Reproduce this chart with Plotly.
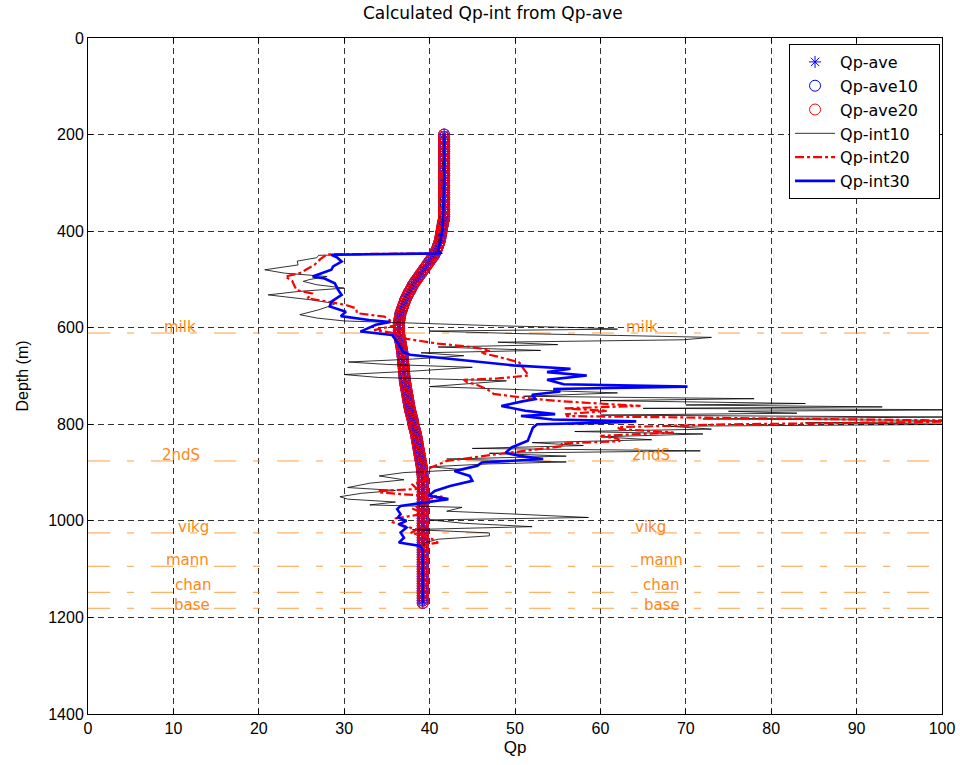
import plotly.graph_objects as go

# ---------------- data ----------------
depth_ave = list(range(200, 1175, 5))  # sample depths of the averaged Qp curves (m)

qp_ave = [
    41.7, 41.7, 41.7, 41.7, 41.7, 41.7, 41.7, 41.7, 41.7, 41.7, 41.7, 41.7,
    41.7, 41.7, 41.7, 41.7, 41.7, 41.7, 41.7, 41.7, 41.7, 41.7, 41.7, 41.7,
    41.7, 41.7, 41.7, 41.7, 41.7, 41.7, 41.7, 41.7, 41.7, 41.7, 41.7, 41.7,
    41.6, 41.55, 41.5, 41.45, 41.4, 41.35, 41.3, 41.25, 41.2, 41.1, 41.0, 40.9,
    40.8, 40.65, 40.5, 40.3, 40.1, 39.9, 39.7, 39.5, 39.3, 39.1, 38.9, 38.7,
    38.5, 38.3, 38.1, 37.95, 37.8, 37.65, 37.5, 37.35, 37.2, 37.1, 37.0, 36.9,
    36.8, 36.7, 36.6, 36.55, 36.5, 36.45, 36.4, 36.4, 36.4, 36.4, 36.4, 36.45,
    36.5, 36.55, 36.6, 36.65, 36.7, 36.75, 36.8, 36.82, 36.85, 36.88, 36.9, 36.92,
    36.95, 36.98, 37.0, 37.02, 37.05, 37.08, 37.1, 37.15, 37.2, 37.25, 37.3, 37.35,
    37.4, 37.45, 37.5, 37.55, 37.6, 37.65, 37.7, 37.78, 37.85, 37.92, 38.0, 38.05,
    38.1, 38.18, 38.25, 38.32, 38.4, 38.45, 38.5, 38.55, 38.6, 38.65, 38.7, 38.75,
    38.8, 38.85, 38.9, 38.95, 39.0, 39.05, 39.1, 39.12, 39.15, 39.18,
    39.2, 39.2, 39.2, 39.2, 39.2, 39.2, 39.2, 39.2, 39.2, 39.2, 39.2, 39.2,
    39.2, 39.2, 39.2, 39.2, 39.2, 39.2, 39.2, 39.2, 39.2, 39.2, 39.2, 39.2,
    39.2, 39.2, 39.2, 39.2, 39.2, 39.2, 39.2, 39.2, 39.2, 39.2, 39.2, 39.2,
    39.2, 39.2, 39.2, 39.2, 39.2, 39.2, 39.2, 39.2, 39.2, 39.2, 39.2, 39.2,
    39.2, 39.2, 39.2, 39.2, 39.2,
]
# the 10- and 20-sample averages coincide with Qp-ave at this scale
qp_ave10 = list(qp_ave)
qp_ave20 = list(qp_ave)

depth_int10 = [200, 440, 446, 450, 455, 462, 470, 480, 487, 494, 500, 504, 511, 518, 525, 532,
               542, 550, 557, 563, 573, 580, 586, 592, 596, 600, 603, 607, 612, 616, 620, 625,
               630, 635, 640, 647, 652, 658, 665, 671, 676, 682, 690, 697, 703, 710, 716, 722,
               729, 735, 742, 747, 751, 757, 760, 764, 767, 770, 773, 777, 781, 785, 789, 793,
               797, 800, 804, 810, 815, 820, 826, 832, 838, 844, 850, 855, 860, 866, 872, 878,
               882, 888, 894, 900, 907, 915, 922, 931, 937, 943, 950, 955, 961, 967, 972, 980,
               986, 993, 998, 1005, 1012, 1018, 1025, 1031, 1038, 1045, 1050, 1170]
qp_int10 = [41.7, 41.0, 41.5, 27.0, 26.8, 24.5, 24.6, 20.7, 23.0, 28.0, 26.0, 25.2, 26.8, 30.0, 24.6, 21.1,
            26.0, 29.0, 28.0, 27.0, 24.8, 26.8, 30.0, 40.0, 48.0, 58.0, 62.0, 40.0, 50.0, 62.0, 73.0, 69.7,
            48.0, 55.0, 41.0, 53.0, 39.0, 44.0, 38.0, 30.5, 35.0, 45.0, 38.0, 30.0, 34.0, 49.0, 44.0, 40.0,
            52.0, 62.0, 51.0, 78.0, 60.0, 84.0, 70.0, 93.0, 65.0, 104.0, 75.0, 83.0, 60.0, 100.0, 72.0, 110.0,
            84.0, 104.0, 68.0, 73.0, 57.0, 72.0, 60.0, 66.0, 52.0, 58.0, 45.0, 71.7, 47.0, 56.0, 42.0, 56.0,
            47.0, 40.0, 44.0, 37.0, 34.1, 37.0, 33.0, 30.4, 36.0, 32.0, 29.5, 30.4, 36.0, 33.0, 43.8, 42.0,
            50.0, 58.6, 40.0, 44.0, 52.0, 38.0, 47.0, 47.0, 41.0, 39.5, 39.3, 39.2]

depth_int20 = [200, 440, 446, 448, 458, 470, 487, 494, 503, 515, 522, 529, 539, 546, 553, 560,
               570, 577, 584, 595, 605, 612, 623, 633, 640, 647, 652, 660, 672, 685, 699, 705,
               708, 713, 718, 727, 737, 745, 751, 755, 762, 767, 772, 779, 783, 788, 791, 793,
               796, 800, 806, 810, 817, 824, 830, 835, 840, 845, 862, 876, 887, 895, 905, 915,
               925, 934, 938, 941, 945, 950, 955, 965, 975, 985, 995, 1003, 1010, 1018, 1025, 1032,
               1040, 1045, 1050, 1170]
qp_int20 = [41.7, 41.0, 41.2, 28.0, 27.2, 26.5, 24.8, 23.1, 23.9, 24.2, 24.4, 26.2, 25.7, 28.1, 30.2, 31.4,
            31.5, 34.7, 35.3, 36.0, 33.5, 36.2, 37.3, 41.0, 45.0, 47.1, 46.0, 48.0, 50.5, 51.0, 51.6, 48.0,
            44.0, 44.4, 45.5, 46.7, 47.5, 51.0, 54.5, 58.0, 64.7, 55.7, 60.8, 56.0, 56.1, 80.0, 100.0, 105.0,
            95.4, 75.0, 62.0, 62.3, 68.6, 60.0, 62.0, 62.3, 55.4, 55.7, 47.9, 42.0, 40.5, 39.5, 39.3, 39.5,
            38.0, 38.5, 34.0, 34.1, 37.0, 41.5, 39.5, 39.2, 38.0, 39.5, 36.0, 35.7, 37.0, 38.5, 37.8, 39.8,
            40.5, 41.0, 39.3, 39.2]

depth_int30 = [200, 300, 400, 440, 446, 449, 455, 463, 473, 480, 494, 498, 508, 522, 532, 546,
               556, 567, 576, 584, 588, 594, 608, 615, 632, 650, 656, 668, 678, 685, 692, 699,
               708, 717, 722, 727, 732, 739, 748, 752, 762, 772, 779, 783, 790, 794, 797, 800,
               807, 820, 834, 848, 859, 866, 872, 879, 886, 897, 907, 917, 928, 938, 948, 955,
               962, 969, 976, 986, 993, 1000, 1007, 1014, 1024, 1035, 1045, 1052, 1060, 1170]
qp_int30 = [41.7, 41.7, 41.5, 41.0, 41.3, 28.5, 29.2, 29.7, 28.7, 28.5, 26.3, 27.7, 28.9, 29.3, 29.7, 28.5,
            28.3, 30.2, 29.6, 32.9, 35.4, 33.7, 31.9, 35.6, 36.3, 36.9, 37.7, 44.0, 49.8, 56.5, 53.75, 58.4,
            53.75, 55.7, 70.2, 54.5, 55.3, 52.0, 52.4, 51.0, 48.4, 51.2, 54.7, 50.7, 54.4, 64.2, 60.0, 52.6,
            52.1, 51.8, 51.5, 49.6, 48.9, 50.7, 53.3, 46.1, 45.6, 42.9, 44.7, 45.0, 42.4, 40.6, 39.9, 42.2,
            39.6, 36.6, 36.2, 36.6, 36.3, 37.3, 36.4, 37.3, 36.6, 37.0, 36.4, 38.9, 39.2, 39.2]

horizon_names = ["milk", "2ndS", "vikg", "mann", "chan", "base"]
horizon_depths = [611, 876, 1025, 1094, 1148, 1181]

x_ticks = list(range(0, 101, 10))
y_ticks = list(range(0, 1401, 200))

# ---------------- styles ----------------
ORANGE = "rgb(255,135,20)"
FONT = "Liberation Sans, Arial, Helvetica, sans-serif"
WIDE = "DejaVu Sans, Verdana, sans-serif"
label_x_left = [10.8, 10.85, 12.3, 11.7, 12.3, 12.2]
label_x_right = [64.9, 65.9, 65.9, 67.2, 67.1, 67.2]
label_shift = [6, 6, 6, 6, 7, 3]
PAD = "&nbsp;" * 3

fig = go.Figure()

fig.add_trace(go.Scatter(x=qp_ave, y=depth_ave, mode="markers", name="Qp-ave" + PAD,
                         marker=dict(symbol="asterisk-open", size=10, color="blue",
                                     line=dict(color="blue", width=1))))
fig.add_trace(go.Scatter(x=qp_ave10, y=depth_ave, mode="markers", name="Qp-ave10" + PAD,
                         marker=dict(symbol="circle-open", size=11, color="blue",
                                     line=dict(color="blue", width=1))))
fig.add_trace(go.Scatter(x=qp_ave20, y=depth_ave, mode="markers", name="Qp-ave20" + PAD,
                         marker=dict(symbol="circle-open", size=11, color="red",
                                     line=dict(color="red", width=1))))
fig.add_trace(go.Scatter(x=qp_int10, y=depth_int10, mode="lines", name="Qp-int10" + PAD,
                         line=dict(color="black", width=0.8)))
fig.add_trace(go.Scatter(x=qp_int20, y=depth_int20, mode="lines", name="Qp-int20" + PAD,
                         line=dict(color="red", width=2.2, dash="dashdot")))
fig.add_trace(go.Scatter(x=qp_int30, y=depth_int30, mode="lines", name="Qp-int30" + PAD,
                         line=dict(color="blue", width=2.6)))

for name, d, xl, xr, ys in zip(horizon_names, horizon_depths, label_x_left, label_x_right, label_shift):
    fig.add_shape(type="line", xref="x", yref="y", x0=0, x1=100, y0=d, y1=d,
                  line=dict(color=ORANGE, width=0.8, dash="22px,17px,7px,17px"), layer="between")
    for xx in (xl, xr):
        fig.add_annotation(x=xx, y=d, xref="x", yref="y", text=name, showarrow=False,
                           yshift=ys, font=dict(family=WIDE, size=15, color=ORANGE))

axis_common = dict(showline=True, linecolor="black", linewidth=1, mirror="ticks",
                   ticks="inside", ticklen=5, tickcolor="black", showgrid=True,
                   gridcolor="#333333", gridwidth=1, griddash="6px,4px", zeroline=False,
                   automargin=False,
                   tickfont=dict(family=FONT, size=16, color="black"))

fig.update_xaxes(range=[0, 100], tickvals=x_ticks,
                 title=dict(text="Qp", font=dict(family=FONT, size=17), standoff=4),
                 **axis_common)
fig.update_yaxes(range=[1400, 0], tickvals=y_ticks,
                 title=dict(text="Depth (m)", font=dict(family=FONT, size=16)),
                 **axis_common)

fig.update_layout(
    width=960, height=765,
    margin=dict(l=88, r=18, t=38, b=51),
    paper_bgcolor="white", plot_bgcolor="white",
    font=dict(family=FONT, size=16, color="black"),
    title=dict(text="Calculated Qp-int from Qp-ave", xref="paper", x=0.474, xanchor="center",
               yref="container", y=1 - 13 / 765, yanchor="middle", font=dict(family=WIDE, size=17)),
    legend=dict(x=0.9977, y=0.9911, xanchor="right", yanchor="top", bgcolor="white",
                bordercolor="black", borderwidth=1, itemwidth=40,
                font=dict(family=WIDE, size=16)),
    showlegend=True,
)

fig.write_html("out.html")
